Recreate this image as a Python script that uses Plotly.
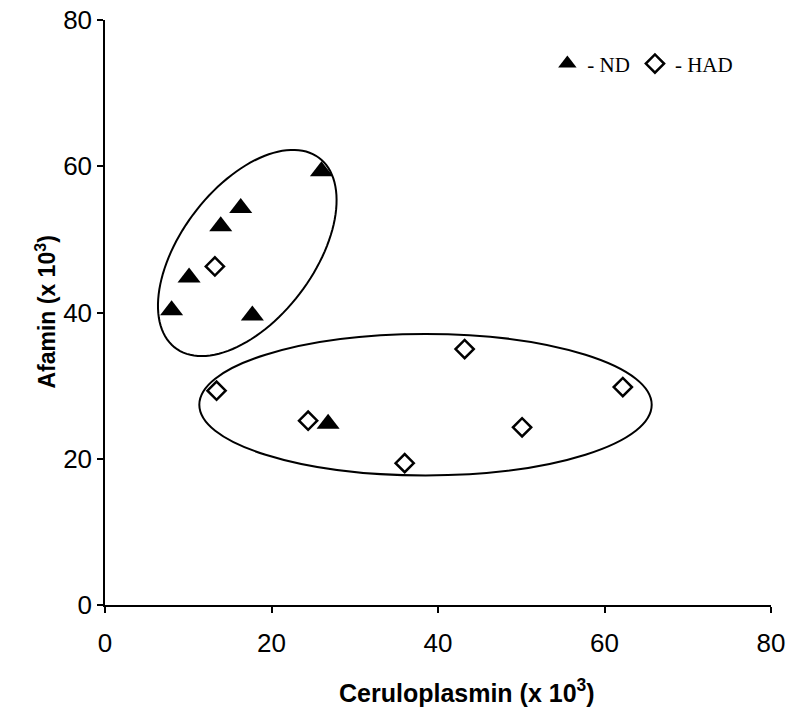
import numpy as np
import plotly.graph_objects as go

# ND (triangles)
nd_x = [26.0, 16.3, 13.9, 10.1, 8.0, 17.7, 26.8]
nd_y = [59.3, 54.3, 51.8, 44.8, 40.3, 39.6, 24.8]

# HAD (open diamonds)
had_x = [13.2, 13.4, 24.4, 36.0, 43.2, 50.1, 62.2]
had_y = [46.3, 29.3, 25.2, 19.4, 35.0, 24.3, 29.8]

x_ticks = [0, 20, 40, 60, 80]
y_ticks = [0, 20, 40, 60, 80]

fig = go.Figure()

fig.add_trace(go.Scatter(x=nd_x, y=nd_y, mode='markers', name='- ND',
                         marker=dict(symbol='triangle-up', size=20, color='black',
                                     line=dict(width=0))))
fig.add_trace(go.Scatter(x=had_x, y=had_y, mode='markers', name='- HAD',
                         marker=dict(symbol='diamond-open', size=14, color='black',
                                     line=dict(width=2.5, color='black'))))

# tilted ellipse around the ND cluster (px per unit: 8.325 in x, 7.3 in y)
t = np.linspace(0, 2 * np.pi, 120)
th = np.radians(53.3)
a, b = 119.8, 66.6
ex = 17.09 + (a * np.cos(th) * np.cos(t) - b * np.sin(th) * np.sin(t)) / 8.325
ey = 48.14 + (a * np.sin(th) * np.cos(t) + b * np.cos(th) * np.sin(t)) / 7.375
path = 'M ' + ' L '.join(f'{px:.3f},{py:.3f}' for px, py in zip(ex, ey)) + ' Z'

fig.add_shape(type='path', path=path, xref='x', yref='y',
              line=dict(color='black', width=2))
fig.add_shape(type='circle', xref='x', yref='y',
              x0=38.5 - 27.17, x1=38.5 + 27.17, y0=27.39 - 9.67, y1=27.39 + 9.67,
              line=dict(color='black', width=2))

fig.add_annotation(text='Ceruloplasmin (x 10<sup>3</sup>)', xref='paper', yref='paper',
                   x=0.5435, y=-0.147, xanchor='center', yanchor='middle', showarrow=False,
                   font=dict(family='Liberation Sans, Arial', size=25, color='black', weight='bold'))
fig.add_annotation(text='Afamin (x 10<sup>3</sup>)', xref='paper', yref='paper',
                   x=-0.09, y=0.5, xanchor='center', yanchor='middle', showarrow=False,
                   textangle=-90,
                   font=dict(family='Liberation Sans, Arial', size=23, color='black', weight='bold'))

axis_common = dict(range=[0, 80], showgrid=False, zeroline=False, showline=True,
                   linecolor='black', linewidth=1.5, ticks='outside', ticklen=6,
                   tickwidth=1.5, tickcolor='black', automargin=False,
                   ticklabeloverflow='allow',
                   tickfont=dict(family='Liberation Sans, Arial', size=26, color='black'))

# page body has an 8px default margin, so the margins are shifted by 8px
fig.update_layout(
    width=800, height=726,
    margin=dict(l=97, r=37, t=12, b=129),
    plot_bgcolor='white', paper_bgcolor='white',
    xaxis=dict(tickvals=x_ticks, ticklabelstandoff=8, **axis_common),
    yaxis=dict(tickvals=y_ticks, ticklabelstandoff=0, **axis_common),
    showlegend=True,
    legend=dict(orientation='h', x=0.951, xanchor='right', y=0.925, yanchor='middle',
                font=dict(family='Liberation Serif, Times New Roman', size=21, color='black'),
                bgcolor='rgba(0,0,0,0)'),
)

fig.write_html("out.html")
